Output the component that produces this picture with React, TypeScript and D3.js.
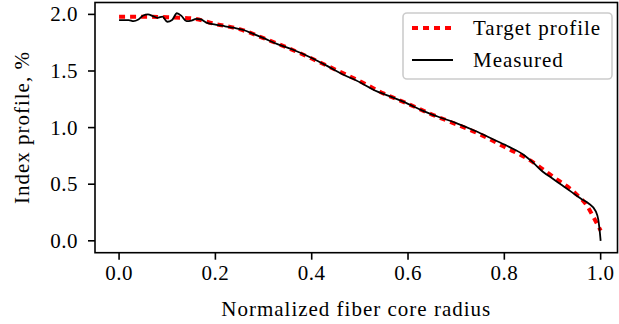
import React from "react";
import * as d3 from "d3";

const targetR = [0, 0.05, 0.1, 0.15, 0.2, 0.25, 0.3, 0.35, 0.4, 0.45, 0.5, 0.55, 0.6, 0.65, 0.7, 0.75, 0.8, 0.85, 0.9, 0.95, 0.97, 0.985, 1.0];
const targetN = [1.98, 1.98, 1.975, 1.965, 1.915, 1.87, 1.79, 1.705, 1.61, 1.51, 1.41, 1.3, 1.21, 1.115, 1.03, 0.94, 0.83, 0.72, 0.57, 0.41, 0.32, 0.21, 0.09];

const measR = [0, 0.01, 0.02, 0.03, 0.04, 0.05, 0.06, 0.07, 0.08, 0.09, 0.1, 0.11, 0.12, 0.13, 0.14, 0.15, 0.16, 0.17, 0.18, 0.2, 0.22, 0.24, 0.26, 0.28, 0.3, 0.33, 0.36, 0.4, 0.43, 0.46, 0.5, 0.53, 0.56, 0.6, 0.63, 0.66, 0.7, 0.74, 0.78, 0.81, 0.84, 0.86, 0.88, 0.9, 0.92, 0.94, 0.96, 0.975, 0.99, 0.995, 0.998, 1.0];
const measN = [1.95, 1.95, 1.95, 1.94, 1.955, 1.99, 2.0, 1.985, 1.97, 1.98, 1.935, 1.95, 2.01, 1.985, 1.94, 1.945, 1.96, 1.955, 1.93, 1.91, 1.895, 1.88, 1.86, 1.825, 1.79, 1.735, 1.69, 1.615, 1.55, 1.48, 1.4, 1.33, 1.28, 1.21, 1.15, 1.1, 1.04, 0.97, 0.89, 0.83, 0.76, 0.69, 0.61, 0.55, 0.49, 0.43, 0.37, 0.33, 0.26, 0.19, 0.09, 0.0];

const xTicks = [0, 0.2, 0.4, 0.6, 0.8, 1.0];
const yTicks = [0, 0.5, 1.0, 1.5, 2.0];

const xLabel = "Normalized fiber core radius";
const yLabel = "Index profile, %";
const legendLabels = ["Target profile", "Measured"];

const W = 619;
const H = 324;
const FONT = "Liberation Serif, DejaVu Serif, serif";
const FS = 21;

export default function App() {
  const left = 95, right = 617.5, top = 2.5, bottom = 252.7;
  const x = d3.scaleLinear().domain([-0.05, 1.035]).range([left, right]);
  const y = d3.scaleLinear().domain([-0.105, 2.105]).range([bottom, top]);

  const tData = targetR.map((r, i) => [r, targetN[i]] as [number, number]);
  const mData = measR.map((r, i) => [r, measN[i]] as [number, number]);
  const line = d3
    .line<[number, number]>()
    .x((d) => x(d[0]))
    .y((d) => y(d[1]))
    .curve(d3.curveMonotoneX);

  const tickLen = 7;
  const lw = 1.6;
  const ts = { fontFamily: FONT, fontSize: FS };

  return (
    <svg width={W} height={H} style={{ position: "absolute", left: 0, top: 0, fontFamily: FONT }}>
      <rect x={0} y={0} width={W} height={H} fill="white" />
      <path d={line(tData) || ""} fill="none" stroke="#ff0000" strokeWidth={4} strokeDasharray="6 5" />
      <path d={line(mData) || ""} fill="none" stroke="black" strokeWidth={1.8} />
      <rect x={left} y={top} width={right - left} height={bottom - top} fill="none" stroke="black" strokeWidth={lw} />
      {xTicks.map((t) => (
        <g key={"x" + t}>
          <line x1={x(t)} x2={x(t)} y1={bottom} y2={bottom + tickLen} stroke="black" strokeWidth={lw} />
          <text x={x(t)} y={280} textAnchor="middle" style={ts} letterSpacing={0.5}>
            {t.toFixed(1)}
          </text>
        </g>
      ))}
      {yTicks.map((t) => (
        <g key={"y" + t}>
          <line x1={left - tickLen} x2={left} y1={y(t)} y2={y(t)} stroke="black" strokeWidth={lw} />
          <text x={78} y={y(t)} dy="0.33em" textAnchor="end" style={ts} letterSpacing={0.5}>
            {t.toFixed(1)}
          </text>
        </g>
      ))}
      <text x={(left + right) / 2} y={316} textAnchor="middle" style={ts} letterSpacing={1}>
        {xLabel}
      </text>
      <text
        transform={`translate(29,${(top + bottom) / 2}) rotate(-90)`}
        textAnchor="middle"
        style={ts}
        letterSpacing={1}
      >
        {yLabel}
      </text>
      <g>
        <rect x={403} y={13} width={209} height={66} rx={4} fill="white" fillOpacity={0.8} stroke="#cccccc" strokeWidth={1.6} />
        <line x1={412} x2={453} y1={28} y2={28} stroke="#ff0000" strokeWidth={4} strokeDasharray="6 5" />
        <text x={473} y={35} style={ts} letterSpacing={1}>
          {legendLabels[0]}
        </text>
        <line x1={412} x2={453} y1={60} y2={60} stroke="black" strokeWidth={1.8} />
        <text x={473} y={67} style={ts} letterSpacing={1}>
          {legendLabels[1]}
        </text>
      </g>
    </svg>
  );
}
